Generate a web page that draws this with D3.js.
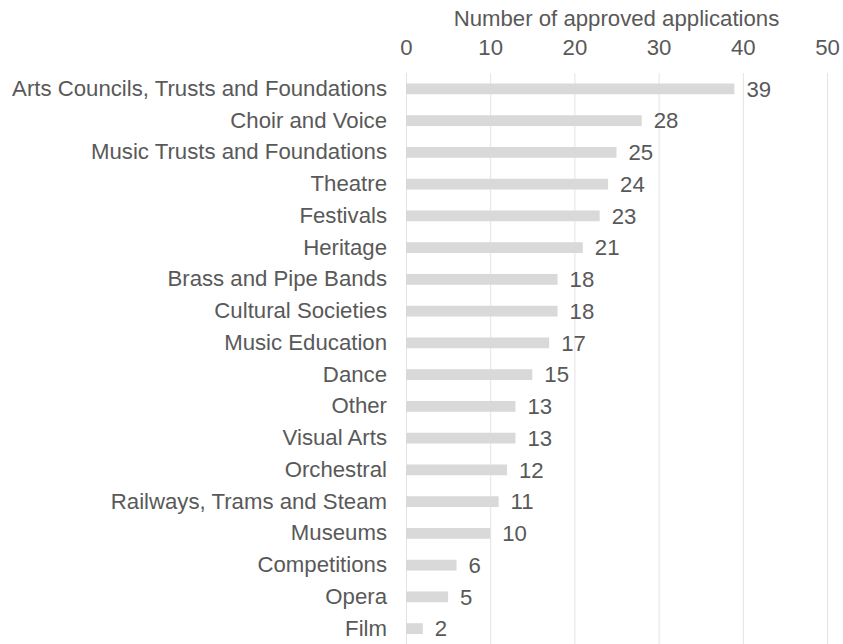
<!DOCTYPE html>
<html>
<head>
<meta charset="utf-8">
<script src="https://cdn.jsdelivr.net/npm/d3@7"></script>
<style>
  html, body { margin: 0; padding: 0; background: #fff; }
  svg { display: block; }
  text { font-family: "Liberation Sans", Arial, sans-serif; fill: #595959; }
</style>
</head>
<body>
<svg id="chart" width="843" height="644"></svg>
<script>
// Approved applications by sector
const categories = [
  "Arts Councils, Trusts and Foundations",
  "Choir and Voice",
  "Music Trusts and Foundations",
  "Theatre",
  "Festivals",
  "Heritage",
  "Brass and Pipe Bands",
  "Cultural Societies",
  "Music Education",
  "Dance",
  "Other",
  "Visual Arts",
  "Orchestral",
  "Railways, Trams and Steam",
  "Museums",
  "Competitions",
  "Opera",
  "Film"
];
const approved = [39, 28, 25, 24, 23, 21, 18, 18, 17, 15, 13, 13, 12, 11, 10, 6, 5, 2];
const xTicks = [0, 10, 20, 30, 40, 50];
const axisTitle = "Number of approved applications";

const svg = d3.select("#chart");
const fontSize = 22.2;

const x = d3.scaleLinear().domain([0, 50]).range([406, 827]);
const y = d3.scaleBand().domain(categories).range([73, 644.5]).paddingInner(0.66).paddingOuter(0.33);

// vertical gridlines
svg.append("g")
  .selectAll("line")
  .data(xTicks)
  .join("line")
  .attr("x1", d => x(d) + 0.5)
  .attr("x2", d => x(d) + 0.5)
  .attr("y1", 73)
  .attr("y2", 644)
  .attr("stroke", "#e3e3e3")
  .attr("stroke-width", 1);

// top axis tick labels
const axis = d3.axisTop(x).tickValues(xTicks).tickSize(0).tickPadding(0);
const gAxis = svg.append("g").attr("transform", "translate(0,55)").call(axis);
gAxis.select(".domain").remove();
gAxis.selectAll("text")
  .attr("font-size", fontSize)
  .attr("fill", "#595959")
  .attr("font-family", "Liberation Sans, Arial, sans-serif");

// axis title
svg.append("text")
  .attr("x", (x(0) + x(50)) / 2)
  .attr("y", 26)
  .attr("text-anchor", "middle")
  .attr("font-size", fontSize)
  .text(axisTitle);

// bars
svg.append("g")
  .selectAll("rect")
  .data(categories)
  .join("rect")
  .attr("x", x(0))
  .attr("y", d => y(d))
  .attr("width", (d, i) => x(approved[i]) - x(0))
  .attr("height", y.bandwidth())
  .attr("fill", "#d9d9d9");

// category labels
const gY = svg.append("g").attr("transform", `translate(${x(0) - 19},0)`)
  .call(d3.axisLeft(y).tickSize(0).tickPadding(0));
gY.select(".domain").remove();
gY.selectAll("text")
  .attr("font-size", fontSize)
  .attr("fill", "#595959")
  .attr("font-family", "Liberation Sans, Arial, sans-serif");

// value labels
svg.append("g")
  .selectAll("text")
  .data(categories)
  .join("text")
  .attr("x", (d, i) => x(approved[i]) + 12)
  .attr("y", d => y(d) + y.bandwidth() / 2)
  .attr("dy", "0.35em")
  .attr("font-size", fontSize)
  .text((d, i) => approved[i]);
</script>
</body>
</html>
